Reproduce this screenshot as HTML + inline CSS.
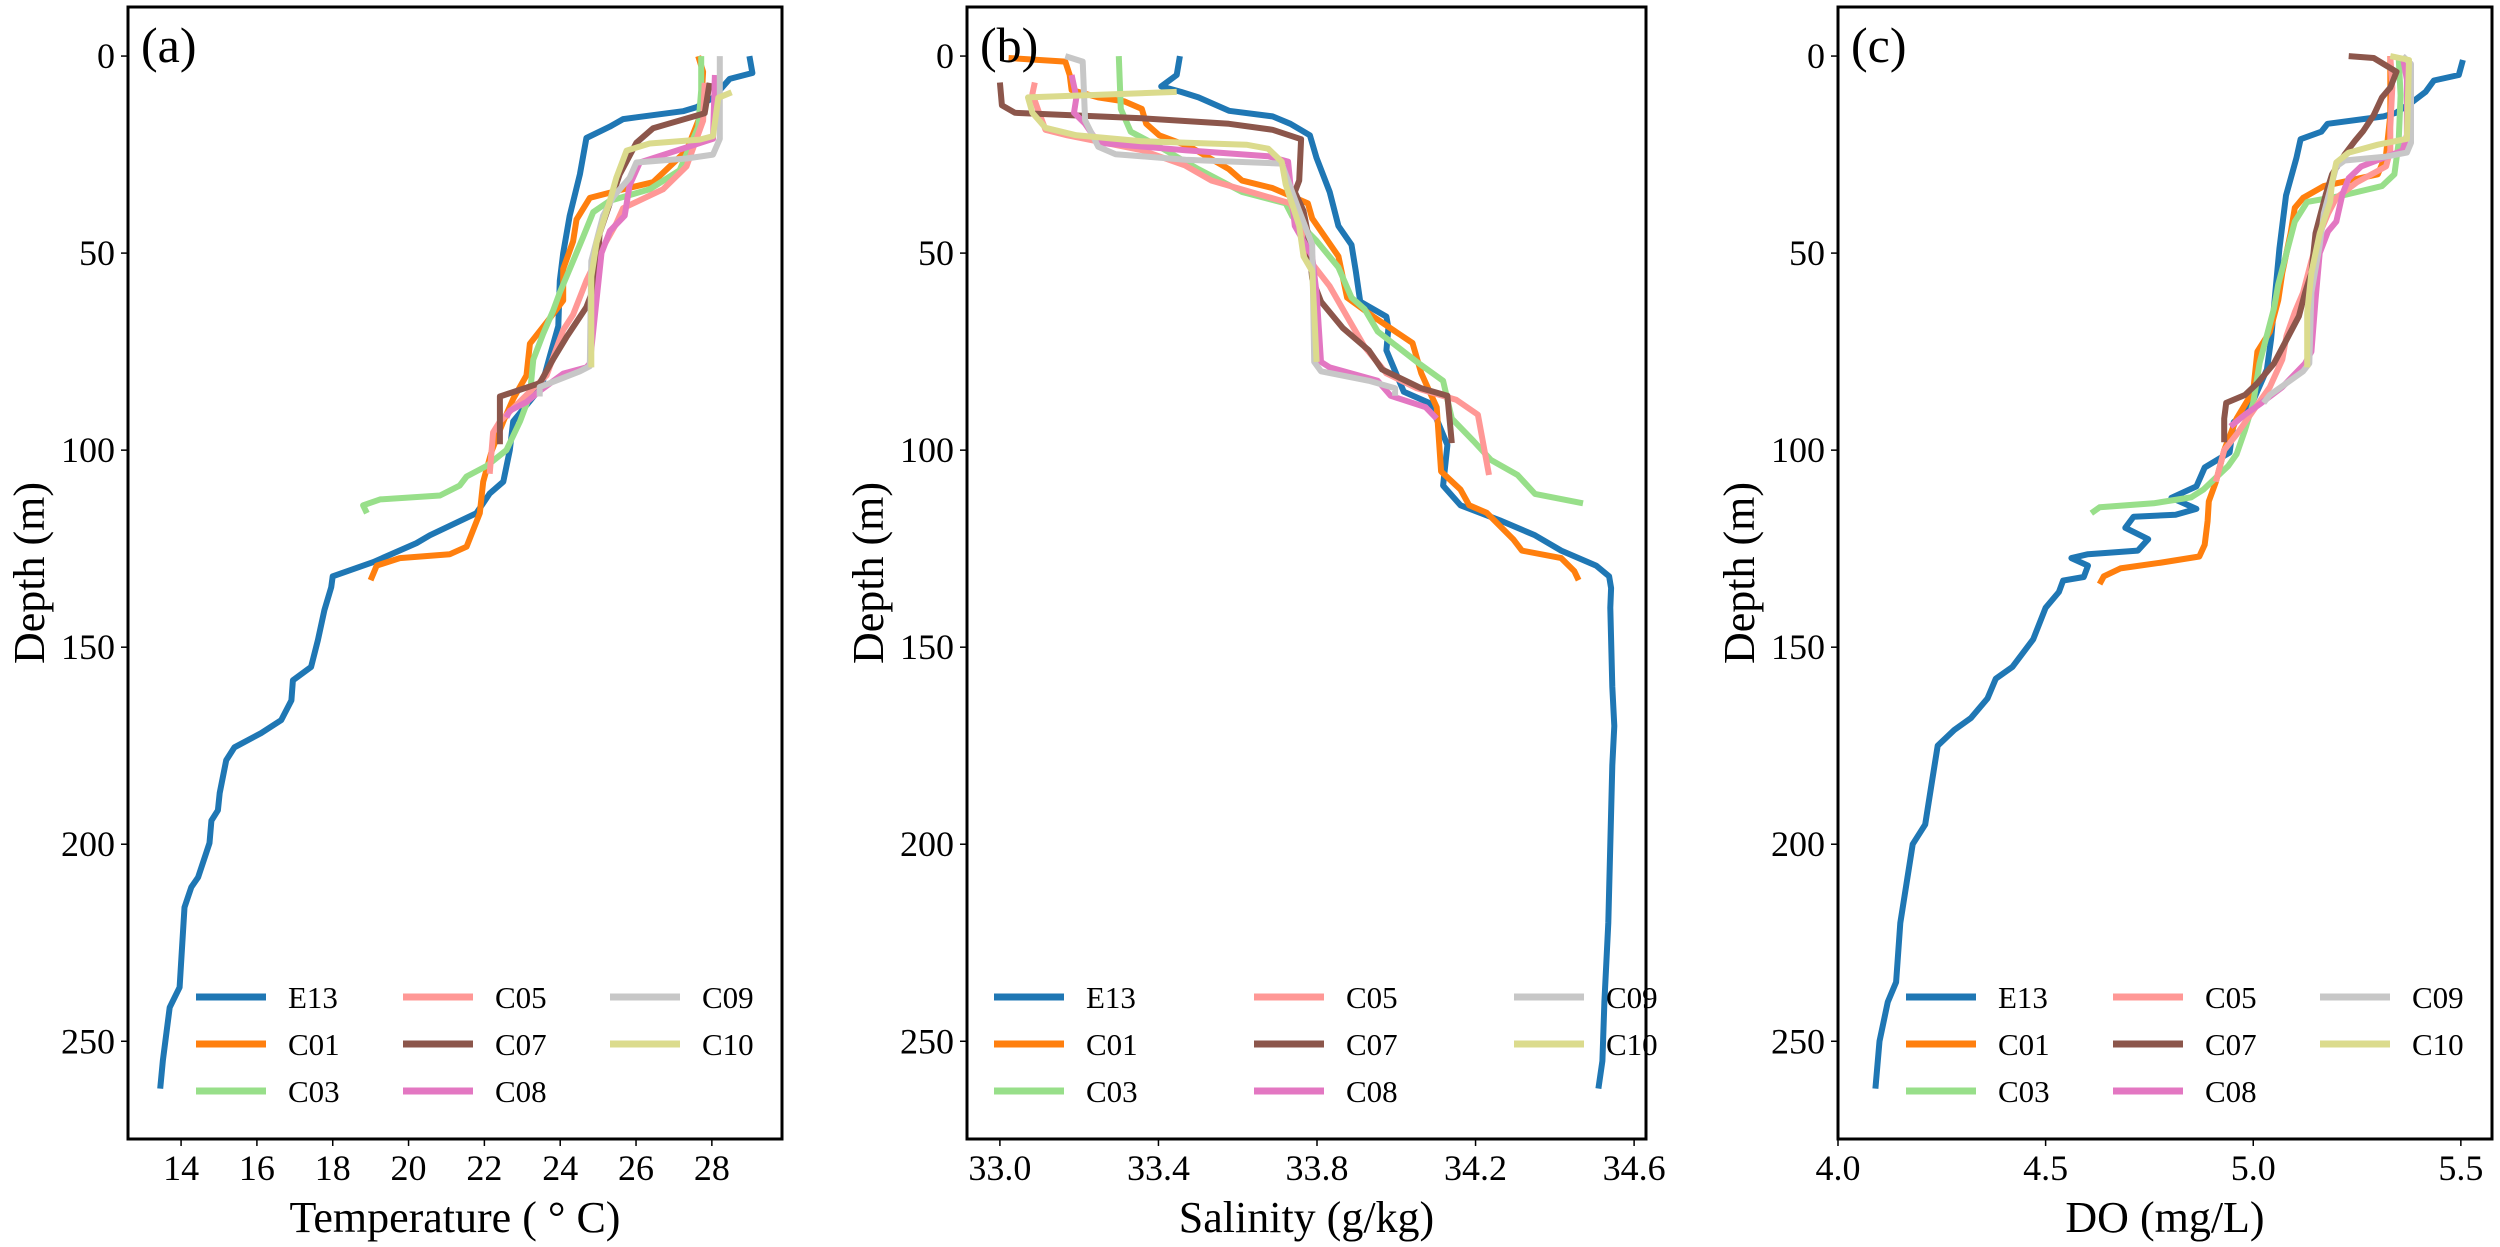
<!DOCTYPE html>
<html><head><meta charset="utf-8"><style>
html,body{margin:0;padding:0;background:#fff;}
svg{display:block;}
text{font-family:"Liberation Serif","Times New Roman",serif;fill:#000;}
</style></head><body>
<svg id="fig" width="2500" height="1247" viewBox="0 0 2500 1247" xmlns="http://www.w3.org/2000/svg"></svg>
<script>
// ---- data (depth m, value) ----
const stations = ["E13","C01","C03","C05","C07","C08","C09","C10"];
const colors = ["#1f77b4","#ff7f0e","#98df8a","#ff9896","#8c564b","#e377c2","#c7c7c7","#dbdb8d"];
const yTicks = [0,50,100,150,200,250];
const tempTicks = [14,16,18,20,22,24,26,28];
const salTicks = [33.0,33.4,33.8,34.2,34.6];
const doTicks = [4.0,4.5,5.0,5.5];

const T_E13 = [[0,28.99],[4.3,29.07],[5.8,28.47],[10.6,28.03],[13,27.59],[14,27.24],[16,25.66],[17.9,25.31],[20.8,24.69],[30,24.52],[40.5,24.25],[50,24.08],[57,23.99],[68.5,23.95],[76,23.73],[84,23.5],[92.7,22.76],[100,22.67],[108,22.5],[111,22.14],[116,21.79],[121.6,20.56],[123.6,20.21],[128.4,19.07],[132,18.0],[134.8,17.96],[140.6,17.78],[148.2,17.61],[155,17.43],[158.4,16.95],[163.5,16.91],[168.5,16.64],[171.8,16.11],[175.4,15.41],[178.7,15.19],[187,15.02],[191.4,14.97],[194,14.8],[199.7,14.75],[208.4,14.45],[210.9,14.27],[216,14.09],[236.3,13.96],[241.4,13.7],[254.8,13.52],[262,13.45]];
const T_C01 = [[0,27.64],[4,27.77],[15,27.7],[24,27.33],[32,26.45],[34,25.57],[36,24.78],[41.5,24.43],[47,24.34],[54,24.08],[62,24.08],[67.6,23.64],[73,23.2],[81,23.11],[87,22.76],[92.7,22.5],[100,22.2],[108,21.97],[116,21.88],[124.5,21.53],[126.4,21.09],[127.4,19.77],[129.3,19.16],[133,19.0]];
const T_C03 = [[0,27.72],[8.7,27.72],[18,27.64],[29,27.15],[33.8,26.36],[36.7,25.31],[39.6,24.87],[46,24.6],[52,24.34],[60,23.99],[64.7,23.81],[70.5,23.55],[77,23.29],[86,23.2],[92.7,22.94],[100,22.58],[104,22.06],[106.7,21.53],[109,21.35],[111.5,20.83],[112.5,19.25],[114,18.8],[116,18.9]];
const T_C05 = [[6.8,27.81],[16.4,27.77],[28,27.33],[33.8,26.71],[38.6,25.66],[42.5,25.48],[50,25.04],[57,24.69],[65.6,24.34],[69.5,24.08],[81,23.64],[86,23.11],[92.7,22.41],[95.5,22.23],[106,22.14]];
const T_C07 = [[6.8,27.94],[14.5,27.81],[18.3,26.45],[22,26.01],[30,25.57],[45,25.04],[57,24.96],[63.7,24.69],[71.4,24.16],[77,23.81],[83,23.46],[86.4,22.41],[98.5,22.41]];
const T_C08 = [[4.8,28.08],[21,28.03],[27,26.1],[32.8,25.83],[40.5,25.7],[44.4,25.31],[50,25.09],[78,24.78],[79,24.69],[80.6,24.08],[85,23.46],[87.8,23.11],[90,22.67],[91.7,22.58]];
const T_C09 = [[0,28.21],[21,28.21],[25,28.03],[26,27.33],[27,26.01],[30.9,25.83],[35.7,25.4],[40.5,25.13],[52,24.82],[78.7,24.78],[80,24.52],[82,23.99],[84,23.46],[86.4,23.46]];
const T_C10 = [[9.2,28.52],[10.6,28.17],[20.3,28.03],[21.2,27.68],[22.2,26.36],[24,25.75],[30.9,25.48],[36.7,25.31],[47.3,24.96],[56,24.82],[79,24.82]];

const S_E13 = [[0,33.454],[4.8,33.446],[7.7,33.407],[9.1,33.457],[10.5,33.501],[13.9,33.578],[15.3,33.688],[17.2,33.733],[20.1,33.782],[25.9,33.799],[34.5,33.832],[43.1,33.854],[47.9,33.887],[54.6,33.898],[62.3,33.909],[66.1,33.975],[69,33.98],[74.7,33.975],[85.2,34.019],[88.1,34.085],[98.7,34.129],[109,34.118],[114,34.162],[117.8,34.261],[121.6,34.35],[125.5,34.416],[129.3,34.504],[132,34.537],[135,34.542],[140,34.54],[160,34.545],[170,34.55],[180,34.545],[200,34.54],[220,34.535],[240,34.525],[255,34.52],[262,34.51]];
const S_C01 = [[0.5,33.022],[1.4,33.165],[4.8,33.176],[8.6,33.181],[10.5,33.248],[11.5,33.314],[13.4,33.358],[17.2,33.369],[20.1,33.402],[23,33.479],[28.7,33.578],[31.6,33.611],[33.5,33.688],[37.4,33.777],[41.2,33.788],[50.8,33.854],[61.3,33.876],[66.1,33.942],[72.8,34.041],[80.5,34.063],[89.1,34.102],[105.4,34.113],[110,34.162],[114,34.184],[115.9,34.228],[122.6,34.295],[125.5,34.317],[127.4,34.416],[130.7,34.449],[133,34.46]];
const S_C03 = [[0,33.3],[13.4,33.305],[19.2,33.33],[23,33.402],[28.7,33.501],[34.5,33.611],[37.4,33.721],[40.7,33.738],[46.9,33.799],[53.6,33.854],[61.3,33.887],[64.2,33.92],[69.9,33.953],[77.6,34.052],[82.4,34.118],[92,34.14],[97.7,34.195],[102.5,34.239],[106.3,34.306],[111.1,34.35],[113.5,34.471]];
const S_C05 = [[6.7,33.088],[9.6,33.082],[14.4,33.099],[18.7,33.115],[20.1,33.17],[23.9,33.358],[27.8,33.468],[31.6,33.534],[34.5,33.633],[37.4,33.733],[43.1,33.755],[52.7,33.788],[58.4,33.832],[66.1,33.876],[73.8,33.92],[80.5,33.975],[84.3,34.052],[87.2,34.151],[91,34.206],[106.3,34.234]];
const S_C07 = [[6.7,33.0],[12.5,33.005],[14.4,33.038],[15.8,33.358],[17.2,33.578],[18.7,33.688],[21.1,33.76],[31.6,33.755],[34.5,33.744],[39.3,33.766],[45,33.777],[56.5,33.788],[62.3,33.81],[69,33.865],[74.7,33.931],[79.5,33.964],[84.3,34.063],[86.2,34.129],[98.2,34.14]];
const S_C08 = [[4.8,33.181],[10.5,33.193],[14.4,33.187],[17.2,33.215],[22,33.248],[23.9,33.468],[25.4,33.677],[26.8,33.727],[32.6,33.733],[43.1,33.744],[50.8,33.788],[60.3,33.799],[77.6,33.81],[79,33.832],[82.4,33.953],[86.2,33.986],[89.1,34.074],[92,34.102]];
const S_C09 = [[0,33.165],[1.4,33.209],[16.3,33.215],[23,33.248],[24.9,33.292],[26.3,33.468],[27.3,33.711],[39.3,33.755],[47.9,33.788],[77.6,33.793],[80,33.81],[82.4,33.931],[84.3,33.997],[86.2,33.997]];
const S_C10 = [[9.1,33.446],[10.5,33.071],[14.4,33.082],[18.2,33.115],[20.1,33.193],[21.6,33.358],[22.5,33.622],[23.5,33.677],[26.8,33.711],[32.6,33.721],[43.1,33.755],[50.8,33.766],[54.6,33.788],[77.6,33.799]];

const D_E13 = [[1,5.505],[4.8,5.495],[6.2,5.435],[9.1,5.415],[11.5,5.385],[14.4,5.344],[15.3,5.314],[17.2,5.179],[19.2,5.164],[21.1,5.114],[25.9,5.104],[35.4,5.079],[48.9,5.063],[60.3,5.053],[71.8,5.043],[79.5,5.033],[89.1,4.993],[92.9,4.953],[100.6,4.943],[104.4,4.883],[109.2,4.863],[112.1,4.803],[114.9,4.863],[116.4,4.813],[116.9,4.712],[119.7,4.692],[122.6,4.747],[125.5,4.722],[126.4,4.602],[127.4,4.562],[129.3,4.602],[132.2,4.592],[133.1,4.542],[136,4.532],[140,4.5],[148,4.47],[155,4.42],[158,4.38],[163,4.36],[168,4.32],[171,4.28],[175,4.24],[185,4.225],[195,4.21],[200,4.18],[210,4.165],[220,4.15],[235,4.14],[240,4.12],[250,4.10],[262,4.09]];
const D_C01 = [[0,5.33],[8,5.33],[15,5.33],[25,5.32],[30,5.3],[33,5.17],[36,5.12],[38.5,5.10],[45,5.09],[55,5.07],[62,5.06],[70,5.04],[75,5.01],[85,5.0],[92,4.96],[100,4.93],[108,4.91],[113,4.893],[118,4.89],[124,4.883],[127,4.87],[128.5,4.78],[130,4.68],[132,4.64],[134,4.63]];
const D_C03 = [[0,5.35],[10,5.355],[22,5.35],[30,5.34],[33,5.31],[35.5,5.21],[37,5.13],[42,5.10],[50,5.08],[58,5.06],[64,5.05],[70,5.035],[78,5.015],[88,5.0],[95,4.98],[101,4.96],[104,4.94],[107,4.91],[110,4.88],[112,4.85],[113.5,4.76],[114.5,4.63],[116,4.61]];
const D_C05 = [[0,5.33],[8,5.335],[18,5.33],[24,5.33],[28,5.32],[32,5.25],[36,5.2],[40,5.18],[45,5.16],[52,5.14],[60,5.12],[65,5.10],[71,5.08],[77,5.07],[84,5.04],[90,5.0],[96,4.96],[100,4.93],[106,4.915],[108,4.91]];
const D_C07 = [[0,5.23],[0.5,5.29],[4,5.345],[8,5.33],[10.5,5.31],[15,5.29],[19,5.265],[21.5,5.245],[25,5.22],[30,5.19],[35,5.175],[45,5.15],[55,5.14],[60,5.125],[66,5.11],[72,5.08],[78,5.05],[83,5.01],[86,4.98],[88,4.935],[92,4.93],[98,4.93]];
const D_C08 = [[0,5.36],[6,5.37],[20,5.37],[24,5.36],[26,5.31],[28,5.26],[31,5.23],[35,5.215],[42,5.2],[44.5,5.18],[50,5.16],[62,5.15],[75,5.14],[78,5.125],[84,5.07],[88,5.02],[91,4.98],[94,4.945]];
const D_C09 = [[0,5.36],[2,5.38],[22,5.38],[24.5,5.37],[25.5,5.32],[26.5,5.22],[28,5.2],[32,5.19],[40,5.17],[48,5.16],[60,5.14],[78,5.135],[80,5.12],[83,5.08],[86,5.04],[88,5.025]];
const D_C10 = [[0,5.33],[1,5.375],[21,5.37],[22.5,5.3],[24.5,5.23],[27,5.2],[32,5.19],[37,5.185],[45,5.16],[55,5.14],[65,5.13],[79,5.13]];

const seriesT = [T_E13,T_C01,T_C03,T_C05,T_C07,T_C08,T_C09,T_C10];
const seriesS = [S_E13,S_C01,S_C03,S_C05,S_C07,S_C08,S_C09,S_C10];
const seriesD = [D_E13,D_C01,D_C03,D_C05,D_C07,D_C08,D_C09,D_C10];

// ---- drawing ----
const NS = "http://www.w3.org/2000/svg";
const svg = document.getElementById("fig");
const TOP = 7, BOT = 1139;
const depthMin = -12.45, depthMax = 274.8;
function yScale(d){ return TOP + (d - depthMin) / (depthMax - depthMin) * (BOT - TOP); }
function mk(tag, attrs, parent){
  const e = document.createElementNS(NS, tag);
  for (const k in attrs) e.setAttribute(k, attrs[k]);
  (parent || svg).appendChild(e);
  return e;
}
const panels = [
  {id:"a", left:128, right:782, xmin:12.60, xmax:29.85, ticks:tempTicks, fmt:v=>String(v), series:seriesT, title:"Temperature ( ° C)", legOff:68, legSp:207},
  {id:"b", left:967, right:1646, xmin:32.917, xmax:34.630, ticks:salTicks, fmt:v=>v.toFixed(1), series:seriesS, title:"Salinity (g/kg)", legOff:27, legSp:260},
  {id:"c", left:1838, right:2492, xmin:4.0, xmax:5.575, ticks:doTicks, fmt:v=>v.toFixed(1), series:seriesD, title:"DO (mg/L)", legOff:68, legSp:207}
];
panels.forEach(p => {
  const xs = v => p.left + (v - p.xmin) / (p.xmax - p.xmin) * (p.right - p.left);
  const g = mk("g", {});
  
  
  const cp = mk("clipPath", {id:"clip-"+p.id}, g);
  mk("rect", {x:p.left, y:TOP, width:p.right-p.left, height:BOT-TOP}, cp);
  const sg = mk("g", {"clip-path":"url(#clip-"+p.id+")"}, g);
  p.series.forEach((s, i) => {
    const pts = s.map(pt => xs(pt[1]).toFixed(1) + "," + yScale(pt[0]).toFixed(1)).join(" ");
    const pl = mk("polyline", {points:pts, fill:"none", stroke:colors[i], "stroke-width":6, "stroke-linejoin":"round", "stroke-linecap":"butt"}, sg);
    
    
  });
  const fr = mk("rect", {x:p.left, y:TOP, width:p.right-p.left, height:BOT-TOP, fill:"none", stroke:"#000", "stroke-width":3}, g);
  
  
  yTicks.forEach(t => {
    const y = yScale(t);
    mk("line", {x1:p.left-7, x2:p.left, y1:y, y2:y, stroke:"#000", "stroke-width":1.5}, g);
    const tx = mk("text", {x:p.left-13, y:y+12, "font-size":36, "text-anchor":"end"}, g);
    tx.textContent = t;
    
    
  });
  p.ticks.forEach(t => {
    const x = xs(t);
    mk("line", {x1:x, x2:x, y1:BOT, y2:BOT+7, stroke:"#000", "stroke-width":1.5}, g);
    const tx = mk("text", {x:x, y:BOT+41, "font-size":36, "text-anchor":"middle"}, g);
    tx.textContent = p.fmt(t);
    
    
  });
  const xt = mk("text", {x:(p.left+p.right)/2, y:1232, "font-size":44, "text-anchor":"middle"}, g);
  xt.textContent = p.title;
  
  
  const yt = mk("text", {x:0, y:0, "font-size":44, "text-anchor":"middle", transform:"translate("+(p.left-84)+","+((TOP+BOT)/2)+") rotate(-90)"}, g);
  yt.textContent = "Depth (m)";
  
  
  const pl = mk("text", {x:p.left+13, y:62, "font-size":50}, g);
  pl.textContent = "(" + p.id + ")";
  
  
  const lg = mk("g", {}, g);
  
  
  stations.forEach((st, i) => {
    const col = Math.floor(i / 3), row = i % 3;
    const lx = p.left + p.legOff + col * p.legSp;
    const ly = 997 + row * 47;
    const e = mk("g", {}, lg);
    
    
    mk("line", {x1:lx, x2:lx+70, y1:ly, y2:ly, stroke:colors[i], "stroke-width":7}, e);
    const tx = mk("text", {x:lx+92, y:ly+11, "font-size":31}, e);
    tx.textContent = st;
  });
});
</script>
</body></html>
